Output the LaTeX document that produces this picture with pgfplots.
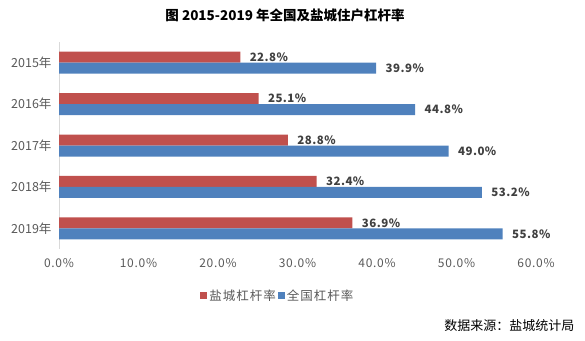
\documentclass[border=0pt]{standalone}
\usepackage{fontspec}
\setmainfont{Noto Sans CJK SC}
\usepackage{pgfplots}
\pgfplotsset{compat=1.18}
\definecolor{cred}{HTML}{C0504D}
\definecolor{cblue}{HTML}{4F81BD}
\definecolor{tickgray}{HTML}{595959}
\definecolor{labgray}{HTML}{404040}
\begin{document}
\begin{tikzpicture}[x=1pt,y=1pt]
\useasboundingbox (0,0) rectangle (585,-340);
\begin{axis}[
  at={(59pt,-249pt)}, anchor=south west,
  scale only axis, width=477pt, height=207pt,
  xbar, bar width=11pt,
  xmin=0, xmax=60, ymin=-0.5, ymax=4.5,
  xtick={0,10,20,30,40,50,60},
  ytick={0,1,2,3,4},
  yticklabels={2019年,2018年,2017年,2016年,2015年},
  /pgf/number format/assume math mode=true,
  xticklabel={\pgfmathprintnumber[fixed,fixed zerofill,precision=1]{\tick}\%},
  xticklabel style={font=\fontsize{12}{14}\selectfont\addfontfeatures{LetterSpace=6}, text=tickgray, yshift=-6pt},
  yticklabel style={font=\fontsize{12.5}{14}\selectfont, text=tickgray, xshift=-4pt},
  major tick length=0pt,
  axis x line*=bottom, axis y line*=left,
  x axis line style={draw=none},
  y axis line style={draw=black!15, line width=0.8pt},
  nodes near coords={\pgfmathprintnumber[fixed,fixed zerofill,precision=1]{\pgfplotspointmeta}\%},
  nodes near coords style={font=\bfseries\fontsize{11.5}{13}\selectfont\addfontfeatures{LetterSpace=4}, text=labgray, anchor=west, xshift=6pt},
  legend style={at={(0.459,-0.227)}, anchor=center, draw=none, legend columns=2,
    font=\fontsize{12.5}{14}\selectfont\addfontfeatures{LetterSpace=8}, text=tickgray,
    /tikz/every even column/.append style={column sep=0pt}},
  legend image code/.code={\fill[#1] (0pt,-3.5pt) rectangle (7pt,3.5pt);},
]
\addplot[fill=cred, draw=none, bar shift=5.5pt] coordinates {(22.8,4) (25.1,3) (28.8,2) (32.4,1) (36.9,0)};
\addplot[fill=cblue, draw=none, bar shift=-5.5pt] coordinates {(39.9,4) (44.8,3) (49.0,2) (53.2,1) (55.8,0)};
\legend{盐城杠杆率,全国杠杆率}
\end{axis}
\node[font=\bfseries\fontsize{13.5}{15}\selectfont, anchor=center] at (285,-15) {图 2015-2019 年全国及盐城住户杠杆率};
\node[font=\fontsize{13}{15}\selectfont, anchor=east] at (578,-326) {数据来源：盐城统计局};
\end{tikzpicture}
\end{document}
